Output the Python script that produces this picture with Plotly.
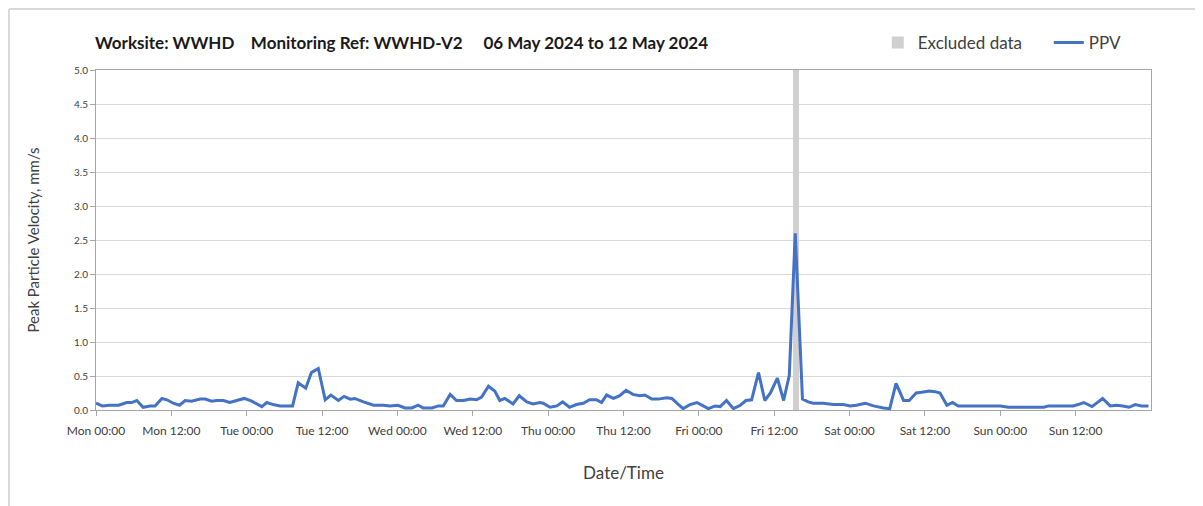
import plotly.graph_objects as go
import pandas as pd

START = pd.Timestamp("2024-05-06 00:00")
END = pd.Timestamp("2024-05-13 00:00")

# hours since Mon 06 May 00:00 and PPV readings (mm/s)
ppv_hours = [
    0.0, 1.0, 2.2, 3.6, 4.9, 5.7, 6.5, 7.5, 8.6, 9.4, 10.5, 11.3, 12.3, 13.3, 14.2, 15.2,
    16.6, 17.4, 18.4, 19.2, 20.3, 21.3, 22.4, 23.6, 24.8, 26.4, 27.2, 28.2, 29.3, 31.3,
    32.2, 33.4, 34.3, 35.4, 36.5, 37.4, 38.6, 39.5, 40.5, 41.2, 42.6, 44.2, 45.8, 46.8,
    48.1, 49.2, 50.3, 51.3, 52.1, 53.5, 54.5, 55.3, 56.4, 57.4, 58.5, 59.6, 60.6, 61.4,
    62.5, 63.5, 64.3, 65.1, 66.4, 67.4, 68.6, 69.6, 70.7, 71.2, 72.3, 73.4, 74.3, 75.4,
    76.5, 77.6, 78.6, 79.7, 80.5, 81.3, 82.4, 83.4, 84.4, 85.5, 86.6, 87.4, 88.5, 89.5,
    90.9, 91.7, 92.5, 93.5, 94.6, 95.7, 96.7, 97.5, 98.6, 99.4, 100.4, 101.5, 102.6,
    103.5, 104.4, 105.5, 106.5, 107.4, 108.5, 109.5, 110.4, 111.35, 112.5, 113.4, 114.2,
    115.8, 117.4, 119.0, 120.1, 121.1, 122.5, 123.8, 125.4, 126.4, 127.4, 128.6, 129.5,
    130.6, 131.5, 132.7, 133.6, 134.4, 135.5, 136.4, 137.3, 138.6, 140.2, 141.8, 144.0,
    145.3, 147.1, 149.3, 150.9, 151.7, 153.5, 155.6, 156.4, 157.3, 158.6, 160.3, 161.5,
    162.5, 163.5, 164.5, 165.5, 166.5, 167.6,
]
ppv_values = [
    0.10, 0.06, 0.07, 0.07, 0.11, 0.11, 0.14, 0.04, 0.06, 0.06, 0.17, 0.15, 0.10, 0.07, 0.14, 0.13,
    0.16, 0.16, 0.13, 0.14, 0.14, 0.11, 0.14, 0.17, 0.13, 0.05, 0.11, 0.08, 0.06, 0.06,
    0.40, 0.32, 0.55, 0.61, 0.15, 0.22, 0.14, 0.20, 0.16, 0.17, 0.12, 0.07, 0.07, 0.06,
    0.07, 0.03, 0.03, 0.07, 0.03, 0.03, 0.06, 0.06, 0.23, 0.14, 0.14, 0.16, 0.15, 0.19,
    0.35, 0.28, 0.14, 0.17, 0.09, 0.21, 0.12, 0.09, 0.11, 0.10, 0.04, 0.06, 0.12, 0.04,
    0.08, 0.10, 0.15, 0.15, 0.11, 0.22, 0.17, 0.21, 0.29, 0.23, 0.21, 0.22, 0.16, 0.16,
    0.18, 0.17, 0.10, 0.02, 0.08, 0.11, 0.06, 0.02, 0.06, 0.05, 0.14, 0.02, 0.07,
    0.14, 0.15, 0.55, 0.14, 0.25, 0.47, 0.14, 0.51, 2.60, 0.16, 0.12, 0.10,
    0.10, 0.08, 0.08, 0.06, 0.07, 0.10, 0.06, 0.03, 0.02, 0.39, 0.14, 0.14,
    0.25, 0.26, 0.28, 0.27, 0.25, 0.07, 0.11, 0.06, 0.06, 0.06, 0.06, 0.06,
    0.04, 0.04, 0.04, 0.04, 0.06, 0.06, 0.06, 0.08, 0.11, 0.05, 0.17, 0.06,
    0.07, 0.06, 0.04, 0.08, 0.06, 0.06,
]

# excluded data window (Fri 10 May)
excluded_start = pd.Timestamp("2024-05-10 15:00")
excluded_end = pd.Timestamp("2024-05-10 16:00")

tick_times = pd.date_range(START, END - pd.Timedelta(hours=12), freq="12h")
day_lines = pd.date_range(START + pd.Timedelta(days=1), END - pd.Timedelta(days=1), freq="D")

ppv_times = START + pd.to_timedelta(ppv_hours, unit="h")

FONT = "Lato, 'Open Sans', sans-serif"
GRID = "#d9d9d9"
TEXT = "#404040"

# page has an 8px body margin, so the figure is laid out 8px smaller
W, H = 1195, 498
L, R, T, B = 88, 52, 62, 96
PW, PH = W - L - R, H - T - B

fig = go.Figure()

# Excluded data band as a full-height bar
fig.add_trace(go.Bar(
    x=[excluded_start + (excluded_end - excluded_start) / 2],
    y=[5.0],
    width=[(excluded_end - excluded_start).total_seconds() * 1000],
    marker=dict(color="#d0d0d0", line=dict(width=0)),
    name="Excluded data&nbsp;&nbsp;&nbsp;&nbsp;&nbsp;",
    hoverinfo="skip",
))

fig.add_trace(go.Scatter(
    x=ppv_times, y=ppv_values, mode="lines",
    line=dict(color="#4472C4", width=3),
    name="PPV",
))

for d in day_lines:
    fig.add_vline(x=d, line_color=GRID, line_width=1, layer="below")

fig.update_layout(
    width=W, height=H,
    paper_bgcolor="white", plot_bgcolor="white",
    margin=dict(l=L, r=R, t=T, b=B),
    font=dict(family=FONT, color=TEXT),
    title=dict(
        text="<b>Worksite: WWHD&nbsp;&nbsp;&nbsp;&nbsp;Monitoring Ref: WWHD-V2"
             "&nbsp;&nbsp;&nbsp;&nbsp;&nbsp;06 May 2024 to 12 May 2024</b>",
        x=(95 - 8) / W, xanchor="left", y=1 - 35 / H, yanchor="middle",
        font=dict(size=17, color="#1a1a1a", family=FONT),
    ),
    legend=dict(
        orientation="h", x=0.741, xanchor="left", y=1 + 27 / PH, yanchor="middle",
        font=dict(size=17, color=TEXT), bgcolor="rgba(0,0,0,0)",
        itemwidth=30, tracegroupgap=0,
    ),
    showlegend=True,
    bargap=0,
    shapes=[dict(
        type="rect", xref="paper", yref="paper",
        x0=-(L - 1) / PW, x1=1.2, y0=-0.4, y1=1 + (T - 1) / PH,
        line=dict(color="#d9d9d9", width=1), fillcolor="rgba(0,0,0,0)", layer="below",
    )],
)

fig.update_xaxes(
    range=[START, END],
    tickmode="array", tickvals=tick_times,
    ticktext=[t.strftime("%a %H:%M") for t in tick_times],
    ticks="outside", ticklen=5, tickcolor="#a6a6a6",
    ticklabelstandoff=5,
    tickfont=dict(size=12, color=TEXT),
    showgrid=False, zeroline=False,
    showline=True, linecolor="#a6a6a6", linewidth=1, mirror=True,
    title=dict(text="Date/Time", font=dict(size=17, color=TEXT), standoff=29),
)
fig.update_yaxes(
    range=[0, 5], dtick=0.5, tickformat=".1f",
    ticks="outside", ticklen=5, tickcolor="#a6a6a6",
    tickfont=dict(size=10, color=TEXT),
    showgrid=True, gridcolor=GRID, zeroline=False,
    showline=True, linecolor="#a6a6a6", linewidth=1, mirror=True,
    title=dict(text="Peak Particle Velocity, mm/s", font=dict(size=15, color=TEXT), standoff=30),
)

fig.write_html("out.html")
